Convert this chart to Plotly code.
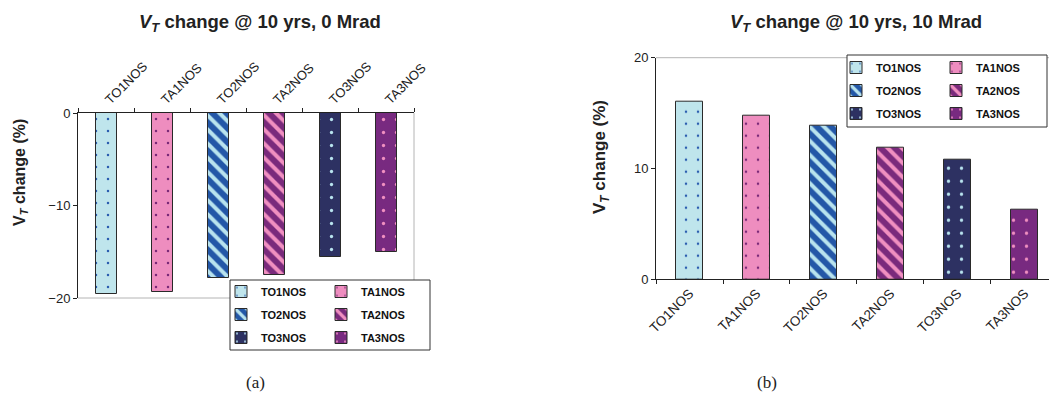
import plotly.graph_objects as go

# Device variants (shared category order for both panels)
categories = ["TO1NOS", "TA1NOS", "TO2NOS", "TA2NOS", "TO3NOS", "TA3NOS"]

# Threshold-voltage change after 10 years (%)
change_0mrad = [-19.6, -19.3, -17.8, -17.5, -15.6, -15.0]
change_10mrad = [16.0, 14.8, 13.9, 11.9, 10.8, 6.3]

# Fill styles per device: background colour, pattern colour, pattern shape
bg_colors = ["#bfe5ec", "#ee8dbf", "#2357a7", "#7a2a7c", "#2d3162", "#782a80"]
fg_colors = ["#2a5cb0", "#7a2878", "#b8e3ee", "#f08fc0", "#b8e3ee", "#f08fc0"]
shapes_ = [".", ".", "\\", "\\", ".", "."]
sizes_ = [12, 12, 10, 10, 13, 13]
solid_ = [0.035, 0.035, 0.4, 0.4, 0.05, 0.05]

W, H = 1049, 396
FONT = "Liberation Sans, Arial, sans-serif"


def px_x(p):
    return p / W


def px_y(p):
    return 1 - p / H


fig = go.Figure()

for panel, values, xa, ya, width, legs in [
    ("a", change_0mrad, "x", "y", 0.375, ("legend", "legend2")),
    ("b", change_10mrad, "x2", "y2", 0.40, ("legend3", "legend4")),
]:
    for i, (cat, val) in enumerate(zip(categories, values)):
        fig.add_trace(go.Bar(
            x=[cat], y=[val], name=cat,
            xaxis=xa, yaxis=ya, width=width,
            legend=legs[i % 2],
            legendgroup=f"{panel}-{cat}",
            marker=dict(
                color=bg_colors[i],
                line=dict(color="#2a2a2a", width=1),
                pattern=dict(shape=shapes_[i], fillmode="replace",
                             bgcolor=bg_colors[i], fgcolor=fg_colors[i],
                             size=sizes_[i], solidity=solid_[i]),
            ),
            hoverinfo="x+y",
        ))

axis_common = dict(showgrid=False, zeroline=False, ticks="outside", ticklen=4,
                   tickcolor="#222", linecolor="#222", showline=True, automargin=False,
                   tickfont=dict(family=FONT, size=13, color="#222"))

legend_common = dict(orientation="v", bgcolor="rgba(0,0,0,0)", borderwidth=0,
                     font=dict(family=FONT, size=11, color="#111", weight="bold"),
                     tracegroupgap=4, xanchor="left", yanchor="top",
                     itemclick=False, itemdoubleclick=False)

fig.update_layout(
    template="none",
    width=W, height=H, margin=dict(l=0, r=0, t=0, b=0, autoexpand=False),
    paper_bgcolor="white", plot_bgcolor="white",
    barmode="overlay", bargap=0,
    font=dict(family=FONT, color="#222"),
    xaxis=dict(axis_common, domain=[px_x(78), px_x(414)], anchor="y", side="top",
               type="category", categoryorder="array", categoryarray=categories,
               range=[-0.5, 5.5], tickson="boundaries", tickangle=-45),
    yaxis=dict(axis_common, domain=[px_y(298), px_y(113)], anchor="x",
               range=[-20, 0], dtick=10),
    xaxis2=dict(axis_common, domain=[px_x(656), 1.0], anchor="y2",
                type="category", categoryorder="array", categoryarray=categories,
                range=[-0.5, 5.366], tickson="boundaries", tickangle=-45,
                tickfont=dict(family=FONT, size=13.5, color="#222")),
    yaxis2=dict(axis_common, domain=[px_y(279.3), px_y(57.7)], anchor="x2",
                range=[0, 20], dtick=10),
    legend=dict(legend_common, x=px_x(221), y=px_y(277)),
    legend2=dict(legend_common, x=px_x(321), y=px_y(277)),
    legend3=dict(legend_common, x=px_x(836), y=px_y(53)),
    legend4=dict(legend_common, x=px_x(936), y=px_y(53)),
    showlegend=True,
)

# Gray frame edges and legend boxes
frame_gray = "#b4b4b4"
fig.add_shape(type="line", xref="x domain", yref="y domain", x0=1, x1=1, y0=0, y1=1,
              line=dict(color=frame_gray, width=1))
fig.add_shape(type="line", xref="x domain", yref="y domain", x0=0, x1=1, y0=0, y1=0,
              line=dict(color=frame_gray, width=1))
fig.add_shape(type="line", xref="x2 domain", yref="y2 domain", x0=0, x1=1, y0=1, y1=1,
              line=dict(color=frame_gray, width=1))
fig.add_shape(type="rect", xref="paper", yref="paper",
              x0=px_x(230), x1=px_x(430), y0=px_y(350), y1=px_y(280),
              line=dict(color="#333", width=1), fillcolor="white", layer="above")
fig.add_shape(type="rect", xref="paper", yref="paper",
              x0=px_x(847), x1=px_x(1047), y0=px_y(127), y1=px_y(55),
              line=dict(color="#333", width=1), fillcolor="white", layer="above")

# Titles, axis titles and panel captions
title_font = dict(family=FONT, size=18.5, color="#222")
common_ann = dict(xref="paper", yref="paper", showarrow=False,
                  xanchor="center", yanchor="middle")
fig.add_annotation(common_ann, text="<b><i>V<sub>T</sub></i> change @ 10 yrs, 0 Mrad</b>",
                   x=px_x(260), y=px_y(23), font=title_font)
fig.add_annotation(common_ann, text="<b><i>V<sub>T</sub></i> change @ 10 yrs, 10 Mrad</b>",
                   x=px_x(856), y=px_y(23), font=title_font)
fig.add_annotation(common_ann, text="<b>V<sub><i>T</i></sub> change (%)</b>",
                   x=px_x(20), y=px_y(173), textangle=-90,
                   font=dict(family=FONT, size=16, color="#222"))
fig.add_annotation(common_ann, text="<b>V<sub><i>T</i></sub> change (%)</b>",
                   x=px_x(601), y=px_y(157), textangle=-90,
                   font=dict(family=FONT, size=17, color="#222"))
cap_font = dict(family="Liberation Serif, Times New Roman, serif", size=17, color="#222")
fig.add_annotation(common_ann, text="(a)", x=px_x(255), y=px_y(382), font=cap_font)
fig.add_annotation(common_ann, text="(b)", x=px_x(767), y=px_y(382), font=cap_font)

fig.write_html("out.html")
